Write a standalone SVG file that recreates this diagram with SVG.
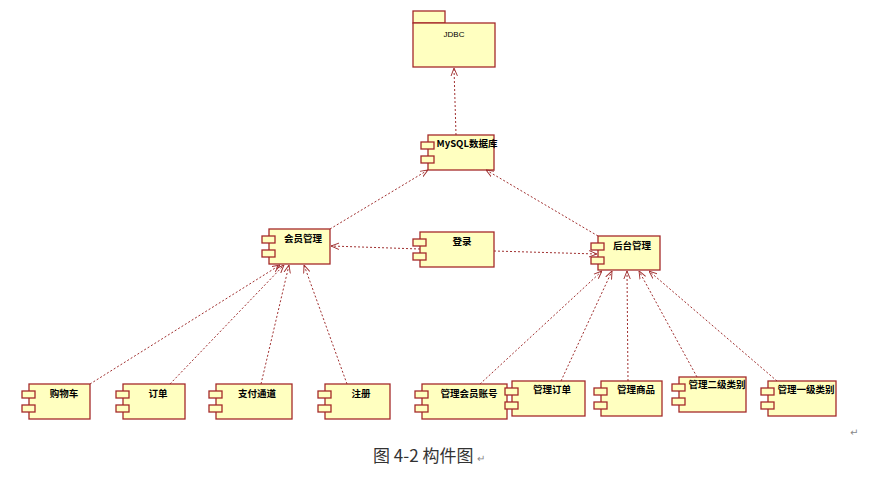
<svg xmlns="http://www.w3.org/2000/svg" width="889" height="492" viewBox="0 0 889 492">
<style>
.b{fill:#ffffc0;stroke:#a52a2a;stroke-width:1.3}
.t{font-family:"Noto Sans CJK SC",sans-serif;font-size:9.5px;font-weight:bold;fill:#000;text-anchor:middle}
.c path{fill:none;stroke:#a03030;stroke-width:1;stroke-dasharray:2,2}
</style>
<defs>
<marker id="a" viewBox="0 0 10 10" refX="10" refY="5" markerWidth="8" markerHeight="8" orient="auto"><path d="M0,1 L10,5 L0,9" fill="none" stroke="#a03030" stroke-width="1.2"/></marker>
<g id="cp"><rect class="b" x="-7" y="7" width="13" height="7"/><rect class="b" x="-7" y="21" width="13" height="7"/></g>
</defs>
<rect width="889" height="492" fill="#fff"/>
<g id="jdbc"><rect class="b" x="413" y="11" width="32" height="12"/><rect class="b" x="413" y="23" width="82" height="44"/><text x="454" y="37" class="t" style="font-weight:normal;font-family:'Liberation Sans',sans-serif;font-size:8px">JDBC</text></g>
<g id="mysql"><rect class="b" x="428" y="135" width="66" height="35"/><use href="#cp" x="428" y="135"/><text x="467" y="147" class="t">MySQL数据库</text></g>
<g id="hy"><rect class="b" x="269" y="229" width="61" height="35"/><use href="#cp" x="269" y="229"/><text x="303" y="242" class="t">会员管理</text></g>
<g id="dl"><rect class="b" x="420" y="232" width="74" height="35"/><use href="#cp" x="420" y="232"/><text x="462" y="245" class="t">登录</text></g>
<g id="ht"><rect class="b" x="598" y="236" width="62" height="34"/><use href="#cp" x="598" y="236"/><text x="632" y="249" class="t">后台管理</text></g>
<g id="n1"><rect class="b" x="29" y="384" width="61" height="35"/><use href="#cp" x="29" y="384"/><text x="64" y="397" class="t">购物车</text></g>
<g id="n2"><rect class="b" x="123" y="384" width="62" height="35"/><use href="#cp" x="123" y="384"/><text x="158" y="397" class="t">订单</text></g>
<g id="n3"><rect class="b" x="216" y="384" width="76" height="35"/><use href="#cp" x="216" y="384"/><text x="257" y="397" class="t">支付通道</text></g>
<g id="n4"><rect class="b" x="325" y="384" width="65" height="35"/><use href="#cp" x="325" y="384"/><text x="361" y="397" class="t">注册</text></g>
<g id="n5"><rect class="b" x="422" y="384" width="85" height="35"/><use href="#cp" x="422" y="384"/><text x="469" y="397" class="t">管理会员账号</text></g>
<g id="n6"><rect class="b" x="512" y="381" width="73" height="35"/><use href="#cp" x="512" y="381"/><text x="552" y="393" class="t">管理订单</text></g>
<g id="n7"><rect class="b" x="601" y="381" width="61" height="35"/><use href="#cp" x="601" y="381"/><text x="636" y="393" class="t">管理商品</text></g>
<g id="n8"><rect class="b" x="679" y="377" width="67" height="35"/><use href="#cp" x="679" y="377"/><text x="717" y="388" class="t">管理二级类别</text></g>
<g id="n9"><rect class="b" x="768" y="381" width="68" height="35"/><use href="#cp" x="768" y="381"/><text x="806" y="393" class="t">管理一级类别</text></g>
<g class="c">
<path d="M456,135 L454,68" marker-end="url(#a)"/>
<path d="M330,229 L428,170" marker-end="url(#a)"/>
<path d="M598,236 L486,170" marker-end="url(#a)"/>
<path d="M420,249 L331,246" marker-end="url(#a)"/>
<path d="M494,251 L597,254" marker-end="url(#a)"/>
<path d="M90,384 L280,265" marker-end="url(#a)"/>
<path d="M170,384 L284,265" marker-end="url(#a)"/>
<path d="M261,384 L289,265" marker-end="url(#a)"/>
<path d="M347,384 L304,265" marker-end="url(#a)"/>
<path d="M480,384 L602,271" marker-end="url(#a)"/>
<path d="M561,381 L612,271" marker-end="url(#a)"/>
<path d="M628,381 L627,271" marker-end="url(#a)"/>
<path d="M697,377 L639,271" marker-end="url(#a)"/>
<path d="M777,381 L649,271" marker-end="url(#a)"/>
</g>
<text x="373" y="462" style="font-family:'Noto Sans CJK SC',sans-serif;font-size:17px;fill:#333">图 4-2  构件图 <tspan style="font-size:10px;fill:#888">↵</tspan></text>
<text x="850" y="436" style="font-family:'DejaVu Sans',sans-serif;font-size:10px;fill:#888">↵</text>
</svg>
